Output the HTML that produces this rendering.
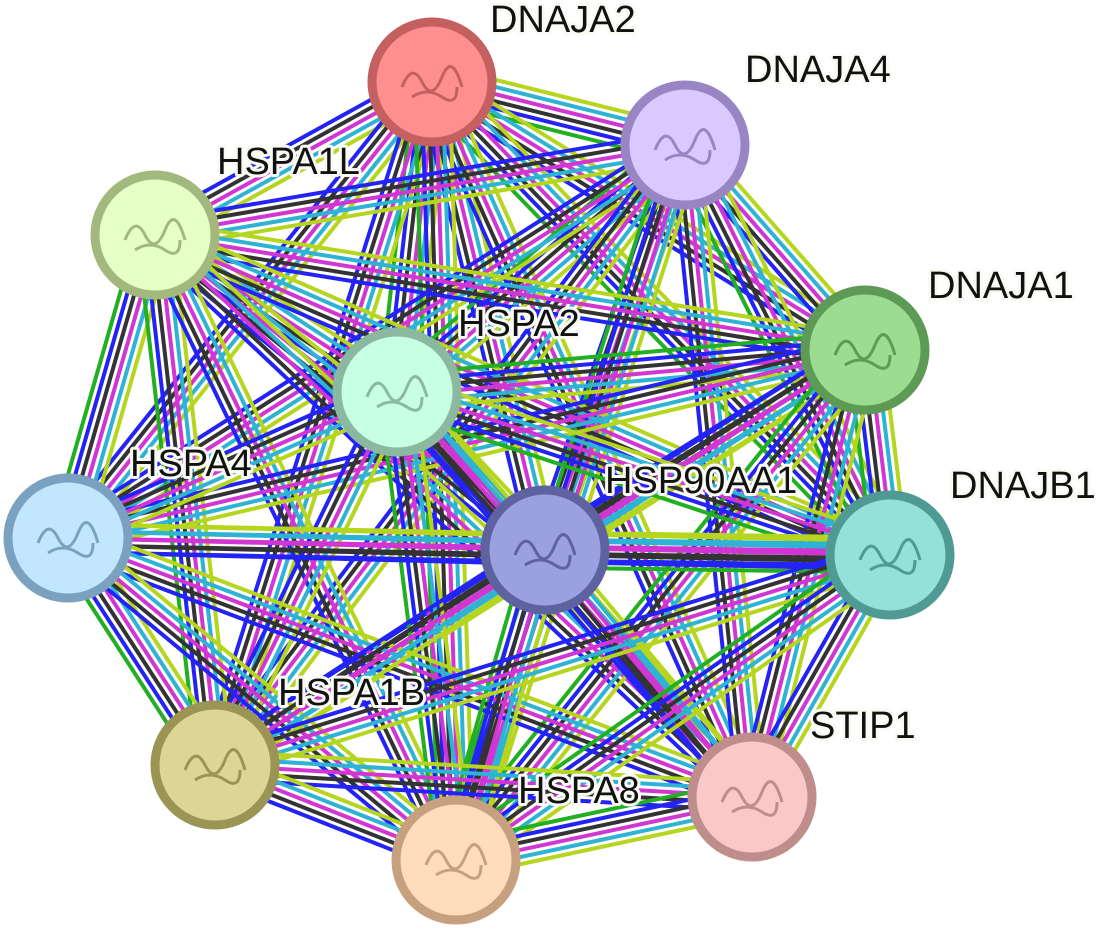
<!DOCTYPE html>
<html><head><meta charset="utf-8"><style>
html,body{margin:0;padding:0;background:#fff;width:1108px;height:939px;overflow:hidden}
svg text{font-family:"Liberation Sans",sans-serif;font-size:38px;fill:#111;paint-order:stroke;stroke:#fafaf5;stroke-width:6px;stroke-linejoin:round}
</style></head><body>
<svg id="s" width="1108" height="939" viewBox="0 0 1108 939" xmlns="http://www.w3.org/2000/svg">
<g id="edges"></g>
<g id="nodes"></g>
<g>
<text x="490" y="32">DNAJA2</text>
<text x="745" y="82">DNAJA4</text>
<text x="217" y="174">HSPA1L</text>
<text x="928" y="298">DNAJA1</text>
<text x="458" y="336">HSPA2</text>
<text x="130" y="476">HSPA4</text>
<text x="605" y="493">HSP90AA1</text>
<text x="950" y="498">DNAJB1</text>
<text x="278" y="705">HSPA1B</text>
<text x="810" y="738">STIP1</text>
<text x="518" y="803">HSPA8</text>
</g>
</svg>
<script>
var N=[
[432,82,"#ff8f8f","#c46060"],
[685,145,"#d8caff","#9a85c4"],
[155,235,"#e6ffc6","#a2b87c"],
[865,350,"#9bdc91","#5c9a55"],
[397,392,"#c6ffe2","#8ab9a0"],
[68,538,"#c3e6ff","#7aa2c0"],
[545,550,"#9ba1e0","#5e63a0"],
[890,555,"#93e2d9","#4f9a92"],
[215,765,"#dcd594","#9a9455"],
[752,797,"#f9c9c9","#c08d8d"],
[456,860,"#ffdcbb","#c7a07f"]];
var C=["#b5d51f","#2fb3d4","#d236d2","#333333","#2323f5","#22b022"];
var ns="http://www.w3.org/2000/svg",E=document.getElementById("edges"),G=document.getElementById("nodes");
var k=0;
for(var i=0;i<N.length;i++)for(var j=i+1;j<N.length;j++){
 var a=N[i],b=N[j],dx=b[0]-a[0],dy=b[1]-a[1],L=Math.hypot(dx,dy),px=-dy/L,py=dx/L;
 var cols=C.slice(0,(k%3==0)?6:5);k++;
 var n=cols.length;
 for(var m=0;m<n;m++){
  var o=(m-(n-1)/2)*7;
  var l=document.createElementNS(ns,"line");
  l.setAttribute("x1",a[0]+px*o);l.setAttribute("y1",a[1]+py*o);
  l.setAttribute("x2",b[0]+px*o);l.setAttribute("y2",b[1]+py*o);
  l.setAttribute("stroke",cols[m]);l.setAttribute("stroke-width","4");
  E.appendChild(l);
 }
}
N.forEach(function(n){
 var c=document.createElementNS(ns,"circle");
 c.setAttribute("cx",n[0]);c.setAttribute("cy",n[1]);c.setAttribute("r",60);
 c.setAttribute("fill",n[2]);c.setAttribute("stroke",n[3]);c.setAttribute("stroke-width",9);
 G.appendChild(c);
 var p=document.createElementNS(ns,"path");
 p.setAttribute("d","M"+(n[0]-30)+","+(n[1]+5)+" q10,-25 20,-5 t20,-5 t20,10 M"+(n[0]-20)+","+(n[1]+15)+" q15,-10 30,0 t15,-10");
 p.setAttribute("fill","none");p.setAttribute("stroke",n[3]);p.setAttribute("stroke-width",3);
 G.appendChild(p);
});
</script>
</body></html>
